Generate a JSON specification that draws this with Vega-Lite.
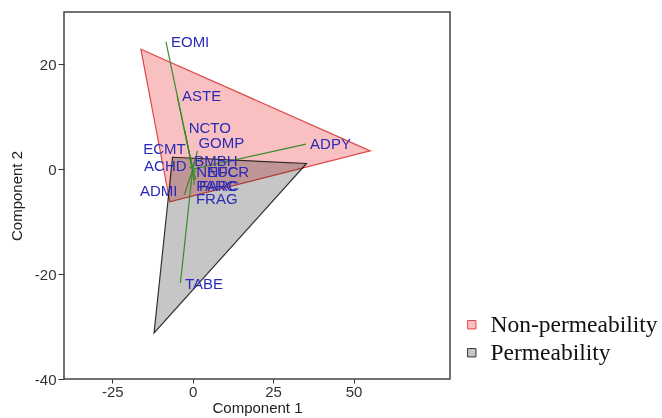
{
  "$schema": "https://vega.github.io/schema/vega-lite/v6.json",
  "autosize": {"type": "none"},
  "padding": {"left": 64, "top": 12, "right": 212, "bottom": 39},
  "width": 386,
  "height": 367,
  "background": "white",
  "config": {
    "view": {"stroke": "#444444", "strokeWidth": 1.5},
    "axis": {
      "domain": false,
      "grid": false,
      "tickColor": "#333333",
      "tickSize": 6,
      "labelFont": "Liberation Sans",
      "labelFontSize": 15,
      "labelColor": "#333333",
      "titleFont": "Liberation Sans",
      "titleFontSize": 15,
      "titleFontWeight": "normal",
      "titleColor": "#222222",
      "labelExpr": "'' + datum.value"
    },
    "legend": {
      "orient": "none",
      "legendX": 396,
      "legendY": 301,
      "title": null,
      "symbolType": "square",
      "symbolSize": 70,
      "symbolStrokeWidth": 1,
      "labelFont": "Liberation Serif",
      "labelFontSize": 23.5,
      "labelColor": "#111111",
      "labelOffset": 7,
      "labelLimit": 300,
      "rowPadding": 3
    }
  },
  "datasets": {
    "polys": [
      {"group": "Non-permeability", "order": 1, "x": -16.1, "y": 22.9},
      {"group": "Non-permeability", "order": 2, "x": 55.2, "y": 3.5},
      {"group": "Non-permeability", "order": 3, "x": -7.1, "y": -6.2},
      {"group": "Permeability", "order": 1, "x": -6.25, "y": 2.3},
      {"group": "Permeability", "order": 2, "x": 35.4, "y": 1.1},
      {"group": "Permeability", "order": 3, "x": -12.0, "y": -31.2}
    ],
    "vars": [
      {"name": "EOMI", "x": -8.3, "y": 24.3, "lx": -6.75, "ly": 24.3},
      {"name": "ASTE", "x": -4.8, "y": 14.0, "lx": -3.3, "ly": 14.0},
      {"name": "NCTO", "x": -2.5, "y": 7.5, "lx": -1.25, "ly": 7.9},
      {"name": "GOMP", "x": 1.5, "y": 3.5, "lx": 1.8, "ly": 5.1},
      {"name": "ECMT", "x": -1.0, "y": 2.0, "lx": -15.4, "ly": 3.9},
      {"name": "ADPY", "x": 35.2, "y": 4.8, "lx": 36.5, "ly": 4.8},
      {"name": "ACHD", "x": -1.0, "y": 0.5, "lx": -15.1, "ly": 0.7},
      {"name": "ADMI", "x": -2.6, "y": -4.9, "lx": -16.4, "ly": -4.2},
      {"name": "FRAG", "x": 0.5, "y": -3.0, "lx": 1.0, "ly": -5.7},
      {"name": "TABE", "x": -3.8, "y": -21.7, "lx": -2.4, "ly": -21.8},
      {"name": "BMBH", "x": 0.5, "y": 1.5, "lx": 0.5, "ly": 1.5},
      {"name": "NFCR", "x": 2.0, "y": 0.3, "lx": 4.6, "ly": -0.6},
      {"name": "NEUC", "x": 1.0, "y": -0.5, "lx": 1.1, "ly": -0.6},
      {"name": "PARC", "x": 0.5, "y": -2.0, "lx": 1.1, "ly": -3.2},
      {"name": "FARC", "x": 1.0, "y": -2.0, "lx": 2.0, "ly": -3.2}
    ]
  },
  "encoding": {
    "x": {"type": "quantitative", "scale": {"domain": [-40, 80], "nice": false, "zero": false},
      "axis": {"title": "Component 1", "values": [-25, 0, 25, 50], "tickSize": 4, "labelPadding": 1, "titlePadding": 1}},
    "y": {"type": "quantitative", "scale": {"domain": [-40, 30], "nice": false, "zero": false},
      "axis": {"title": "Component 2", "values": [-40, -20, 0, 20], "titlePadding": 10}}
  },
  "layer": [
    {
      "data": {"name": "polys"},
      "mark": {"type": "line", "interpolate": "linear-closed", "strokeWidth": 1.2, "blend": "multiply"},
      "encoding": {
        "x": {"field": "x", "type": "quantitative"},
        "y": {"field": "y", "type": "quantitative"},
        "order": {"field": "order", "type": "quantitative"},
        "detail": {"field": "group", "type": "nominal"},
        "fill": {"field": "group", "type": "nominal",
          "scale": {"domain": ["Non-permeability", "Permeability"], "range": ["#f8c0c0", "#c6c6c6"]}},
        "stroke": {"field": "group", "type": "nominal",
          "scale": {"domain": ["Non-permeability", "Permeability"], "range": ["#e04848", "#333333"]}}
      }
    },
    {
      "data": {"name": "vars"},
      "mark": {"type": "rule", "color": "#3a8a2e", "strokeWidth": 1.2},
      "encoding": {
        "x": {"field": "x", "type": "quantitative"},
        "y": {"field": "y", "type": "quantitative"},
        "x2": {"datum": 0},
        "y2": {"datum": 0}
      }
    },
    {
      "data": {"name": "vars"},
      "mark": {"type": "text", "align": "left", "baseline": "middle", "font": "Liberation Sans", "fontSize": 15, "color": "#2a2ab8"},
      "encoding": {
        "x": {"field": "lx", "type": "quantitative"},
        "y": {"field": "ly", "type": "quantitative"},
        "text": {"field": "name", "type": "nominal"}
      }
    }
  ]
}
